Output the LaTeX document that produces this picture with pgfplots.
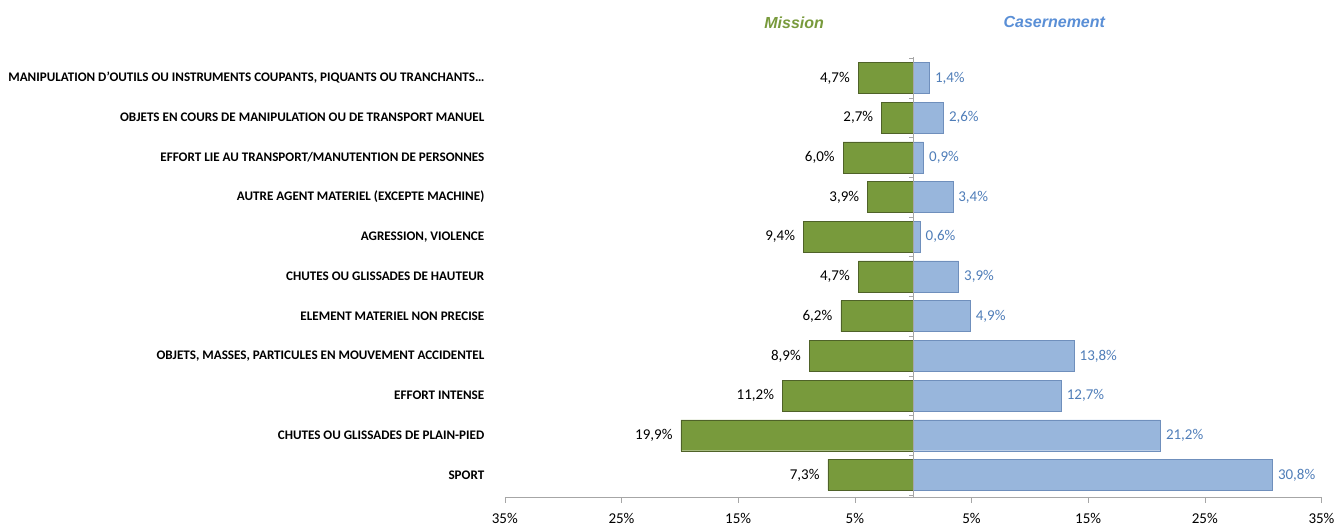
\documentclass[border=0pt]{standalone}
\usepackage{pgfplots}
\pgfplotsset{compat=1.18}
\usepackage{fontspec}
\setmainfont{Carlito}
\newfontfamily\titlefont{Liberation Sans}

\definecolor{missfill}{HTML}{789A3C}
\definecolor{missedge}{HTML}{4F6228}
\definecolor{casfill}{HTML}{98B6DC}
\definecolor{casedge}{HTML}{6F8FBC}
\definecolor{castext}{HTML}{4F7DB8}
\definecolor{castitle}{HTML}{5A8FD6}
\definecolor{axisgray}{HTML}{A6A6A6}

\begin{document}
\begin{tikzpicture}
\begin{axis}[
  scale only axis,
  width=817pt, height=440pt,
  clip=false,
  xmin=-35, xmax=35,
  ymin=-0.53, ymax=10.55,
  y dir=reverse,
  xbar, bar width=0.78, bar shift=0pt,
  axis x line=bottom,
  axis y line=left,
  y axis line style={draw=none},
  x axis line style={draw=axisgray, -},
  xtick={-35,-25,-15,-5,5,15,25,35},
  xticklabel={\pgfmathparse{abs(\tick)}\pgfmathprintnumber{\pgfmathresult}\%},
  xtick style={draw=axisgray},
  tick align=outside,
  major tick length=6pt,
  xticklabel style={font=\fontsize{15}{17}\selectfont, yshift=-7pt},
  /pgf/number format/assume math mode=true,
  ytick={0,1,2,3,4,5,6,7,8,9,10},
  ytick style={draw=none},
  yticklabels={
    {MANIPULATION D'OUTILS OU INSTRUMENTS COUPANTS, PIQUANTS OU TRANCHANTS\ldots},
    {OBJETS EN COURS DE MANIPULATION OU DE TRANSPORT MANUEL},
    {EFFORT LIE AU TRANSPORT/MANUTENTION DE PERSONNES},
    {AUTRE AGENT MATERIEL (EXCEPTE MACHINE)},
    {AGRESSION, VIOLENCE},
    {CHUTES OU GLISSADES DE HAUTEUR},
    {ELEMENT MATERIEL NON PRECISE},
    {OBJETS, MASSES, PARTICULES EN MOUVEMENT ACCIDENTEL},
    {EFFORT INTENSE},
    {CHUTES OU GLISSADES DE PLAIN-PIED},
    {SPORT}},
  yticklabel style={font=\bfseries\fontsize{13.1}{15}\selectfont, xshift=-11pt},
  nodes near coords,
  point meta=explicit symbolic,
  every node near coord/.append style={font=\fontsize{15}{17}\selectfont},
]
\addplot[fill=missfill, draw=missedge,
  every node near coord/.append style={anchor=east, text=black, xshift=-5pt}]
  coordinates {
  (-4.7,0) [4,7\%]
  (-2.7,1) [2,7\%]
  (-6.0,2) [6,0\%]
  (-3.9,3) [3,9\%]
  (-9.4,4) [9,4\%]
  (-4.7,5) [4,7\%]
  (-6.2,6) [6,2\%]
  (-8.9,7) [8,9\%]
  (-11.2,8) [11,2\%]
  (-19.9,9) [19,9\%]
  (-7.3,10) [7,3\%]
  };
\addplot[fill=casfill, draw=casedge,
  every node near coord/.append style={anchor=west, text=castext, xshift=2pt}]
  coordinates {
  (1.4,0) [1,4\%]
  (2.6,1) [2,6\%]
  (0.9,2) [0,9\%]
  (3.4,3) [3,4\%]
  (0.6,4) [0,6\%]
  (3.9,5) [3,9\%]
  (4.9,6) [4,9\%]
  (13.8,7) [13,8\%]
  (12.7,8) [12,7\%]
  (21.2,9) [21,2\%]
  (30.8,10) [30,8\%]
  };
\draw[axisgray] (axis cs:0,-0.53) -- (axis cs:0,10.55);
\pgfplotsinvokeforeach{-0.5,0.5,...,10.5}{
  \draw[axisgray] (axis cs:0,#1) -- (axis cs:-0.35,#1);
}
\node[font=\titlefont\bfseries\itshape\fontsize{16}{18}\selectfont, text=missfill]
  at (axis cs:-10.2,-1.4) {Mission};
\node[font=\titlefont\bfseries\itshape\fontsize{16}{18}\selectfont, text=castitle]
  at (axis cs:12.1,-1.4) {Casernement};
\path (axis cs:-78.27,-1.965) rectangle (axis cs:36.5,11.36);
\end{axis}
\end{tikzpicture}
\end{document}
